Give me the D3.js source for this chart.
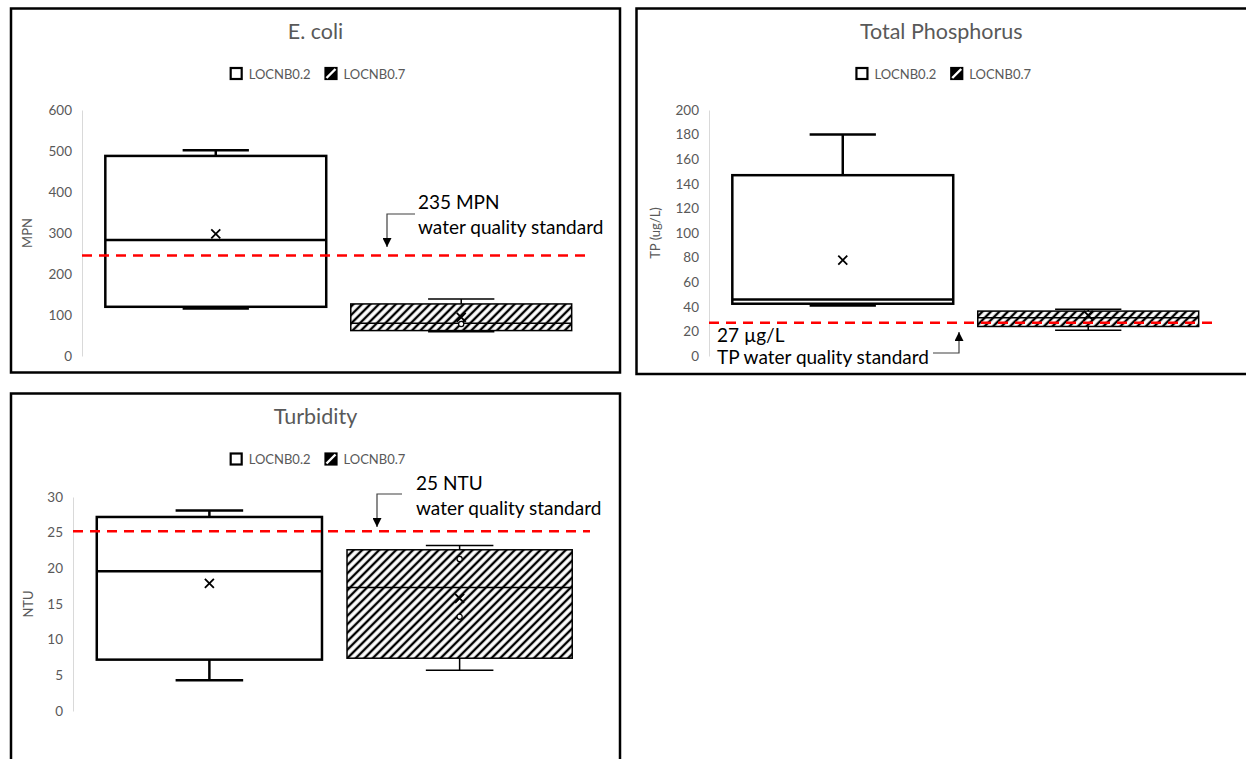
<!DOCTYPE html>
<html>
<head>
<meta charset="utf-8">
<title>Water quality box plots</title>
<script src="https://d3js.org/d3.v7.min.js"></script>
<style>
  body { margin: 0; background: #fff; }
  svg { display: block; font-family: Lato, "Noto Sans", sans-serif; }
</style>
</head>
<body>
<svg id="chart" width="1246" height="759"></svg>
<script>
// sampling sites
var sites = ["LOCNB0.2", "LOCNB0.7"];

// E. coli (MPN) - [min, q1, median, q3, max] per site
var ecoliBox = [[116, 120, 283, 488, 502], [59, 62, 80, 127, 139]];
var ecoliMean = [298, 94];
var ecoliPoints = [[], [78]];
var ecoliTicks = [0, 100, 200, 300, 400, 500, 600];
var ecoliStandard = 245;

// Total phosphorus (ug/L)
var tpBox = [[41, 42.5, 46, 147, 180], [21, 24, 31, 36.5, 38]];
var tpMean = [78, 33];
var tpPoints = [[], []];
var tpTicks = [0, 20, 40, 60, 80, 100, 120, 140, 160, 180, 200];
var tpStandard = 27;

// Turbidity (NTU)
var turbBox = [[4.3, 7.2, 19.6, 27.2, 28.1], [5.7, 7.4, 17.3, 22.6, 23.2]];
var turbMean = [17.9, 15.8];
var turbPoints = [[], [21.3, 13.2]];
var turbTicks = [0, 5, 10, 15, 20, 25, 30];
var turbStandard = 25.2;

var svg = d3.select("#chart");
var defs = svg.append("defs");

// wide upward diagonal fill for the second site
var hatch = defs.append("pattern")
    .attr("id", "hatch")
    .attr("patternUnits", "userSpaceOnUse")
    .attr("width", 6).attr("height", 6)
    .attr("patternTransform", "rotate(45)");
hatch.append("rect").attr("width", 6).attr("height", 6).attr("fill", "#fff");
hatch.append("line").attr("x1", 3).attr("y1", 0).attr("x2", 3).attr("y2", 6)
    .attr("stroke", "#000").attr("stroke-width", 2.4);

defs.append("marker")
    .attr("id", "arrow")
    .attr("viewBox", "0 0 10 10")
    .attr("refX", 10).attr("refY", 5)
    .attr("markerUnits", "userSpaceOnUse")
    .attr("markerWidth", 9).attr("markerHeight", 9)
    .attr("orient", "auto")
  .append("path")
    .attr("d", "M0,0L10,5L0,10z")
    .attr("fill", "#000");

var panels = [
  {
    title: "E. coli", yLabel: "MPN",
    box: ecoliBox, mean: ecoliMean, points: ecoliPoints, ticks: ecoliTicks, standard: ecoliStandard,
    frame: [11, 8.5, 609, 364], xRange: [82, 595], yRange: [356, 110], yMax: 600,
    titleY: 39, legendY: 73.5, yLabelX: 27,
    note: { lines: ["235 MPN", "water quality standard"], x: 418, y: [209, 234],
            path: [[415, 214], [387, 214], [387, 247]] }
  },
  {
    title: "Total Phosphorus", yLabel: "TP (ug/L)",
    box: tpBox, mean: tpMean, points: tpPoints, ticks: tpTicks, standard: tpStandard,
    frame: [636.5, 8.5, 620, 365.5], xRange: [709, 1222], yRange: [356, 110], yMax: 200,
    titleY: 39, legendY: 73.5, yLabelX: 655,
    note: { lines: ["27 \u00b5g/L", "TP water quality standard"], x: 717, y: [342, 364],
            path: [[933, 353], [959, 353], [959, 332]] }
  },
  {
    title: "Turbidity", yLabel: "NTU",
    box: turbBox, mean: turbMean, points: turbPoints, ticks: turbTicks, standard: turbStandard,
    frame: [11, 393.5, 609, 400], xRange: [73, 596], yRange: [711, 497], yMax: 30,
    titleY: 424, legendY: 459, yLabelX: 28,
    note: { lines: ["25 NTU", "water quality standard"], x: 416, y: [490, 515],
            path: [[402, 494], [377, 494], [377, 527]] }
  }
];

panels.forEach(drawPanel);

function drawPanel(p) {
  var g = svg.append("g");

  g.append("rect")
      .attr("x", p.frame[0]).attr("y", p.frame[1])
      .attr("width", p.frame[2]).attr("height", p.frame[3])
      .attr("fill", "#fff").attr("stroke", "#000").attr("stroke-width", 2.5);

  var x = d3.scaleBand().domain(sites).range(p.xRange).paddingInner(0.1).paddingOuter(0.095);
  var y = d3.scaleLinear().domain([0, p.yMax]).range(p.yRange);

  // y axis
  var ag = g.append("g")
      .attr("transform", "translate(" + p.xRange[0] + ",0)")
      .call(d3.axisLeft(y).tickValues(p.ticks).tickSize(0).tickPadding(10))
      .attr("font-family", null).attr("font-size", null);
  ag.select(".domain").attr("stroke", "#d9d9d9");
  ag.selectAll("text").attr("fill", "#595959").style("font-size", "13.5px");

  g.append("text")
      .attr("transform", "translate(" + p.yLabelX + "," + ((p.yRange[0] + p.yRange[1]) / 2) + ") rotate(-90)")
      .attr("text-anchor", "middle")
      .attr("dominant-baseline", "central")
      .attr("fill", "#595959")
      .style("font-size", "13px")
      .text(p.yLabel);

  // title
  g.append("text")
      .attr("x", (p.frame[0] + Math.min(p.frame[0] + p.frame[2], 1246)) / 2)
      .attr("y", p.titleY)
      .attr("text-anchor", "middle")
      .attr("fill", "#595959")
      .style("font-size", "21.5px")
      .text(p.title);

  // legend
  var lg = g.append("g");
  var lx = 0;
  sites.forEach(function(s, i) {
    var item = lg.append("g").attr("transform", "translate(" + lx + ",0)");
    if (i === 0) {
      item.append("rect").attr("x", 1).attr("y", -5.5).attr("width", 11).attr("height", 11)
          .attr("fill", "#fff").attr("stroke", "#000").attr("stroke-width", 2.2);
    } else {
      item.append("rect").attr("x", 1).attr("y", -5.5).attr("width", 11).attr("height", 11)
          .attr("fill", "#000").attr("stroke", "#000").attr("stroke-width", 2.2);
      item.append("line").attr("x1", 2).attr("y1", 4.5).attr("x2", 11).attr("y2", -4.5)
          .attr("stroke", "#fff").attr("stroke-width", 2.4);
    }
    var t = item.append("text").attr("x", 19).attr("y", 0)
        .attr("dominant-baseline", "central")
        .attr("fill", "#595959")
        .style("font-size", "13px")
        .text(s);
    lx += 19 + t.node().getComputedTextLength() + 14;
  });
  var lw = lx - 14;
  var cx = (p.frame[0] + Math.min(p.frame[0] + p.frame[2], 1246)) / 2 + 2;
  lg.attr("transform", "translate(" + (cx - lw / 2) + "," + p.legendY + ")");

  var stats = sites.map(function(s, i) {
    var b = p.box[i];
    return { site: s, i: i, min: b[0], q1: b[1], median: b[2], q3: b[3], max: b[4],
             mean: p.mean[i], points: p.points[i] };
  });

  var bw = x.bandwidth();
  var capW = bw * 0.3;

  var boxes = g.selectAll("g.box").data(stats).enter().append("g").attr("class", "box");

  boxes.each(function(d) {
    var bg = d3.select(this);
    var cxm = x(d.site) + bw / 2;
    var sw = d.i === 0 ? 2.5 : 1.5;

    // whiskers
    bg.append("line").attr("x1", cxm).attr("x2", cxm).attr("y1", y(d.q3)).attr("y2", y(d.max))
        .attr("stroke", "#000").attr("stroke-width", sw);
    bg.append("line").attr("x1", cxm).attr("x2", cxm).attr("y1", y(d.q1)).attr("y2", y(d.min))
        .attr("stroke", "#000").attr("stroke-width", sw);
    [d.max, d.min].forEach(function(v) {
      bg.append("line").attr("x1", cxm - capW / 2).attr("x2", cxm + capW / 2)
          .attr("y1", y(v)).attr("y2", y(v))
          .attr("stroke", "#000").attr("stroke-width", sw);
    });

    // box
    bg.append("rect")
        .attr("x", x(d.site)).attr("y", y(d.q3))
        .attr("width", bw).attr("height", y(d.q1) - y(d.q3))
        .attr("fill", d.i === 0 ? "#fff" : "url(#hatch)")
        .attr("stroke", "#000").attr("stroke-width", sw);

    bg.append("line").attr("x1", x(d.site)).attr("x2", x(d.site) + bw)
        .attr("y1", y(d.median)).attr("y2", y(d.median))
        .attr("stroke", "#000").attr("stroke-width", sw);

    // mean marker
    var my = y(d.mean), r = 4.5;
    bg.append("path")
        .attr("d", "M" + (cxm - r) + "," + (my - r) + "L" + (cxm + r) + "," + (my + r) +
                   "M" + (cxm - r) + "," + (my + r) + "L" + (cxm + r) + "," + (my - r))
        .attr("stroke", "#000").attr("stroke-width", 1.8);

    bg.selectAll("circle").data(d.points).enter().append("circle")
        .attr("cx", cxm).attr("cy", function(v) { return y(v); })
        .attr("r", 2.6)
        .attr("fill", "#fff").attr("stroke", "#000").attr("stroke-width", 1.2);
  });

  // water quality standard
  g.append("line")
      .attr("x1", p.xRange[0]).attr("x2", p.xRange[1] - 6)
      .attr("y1", y(p.standard)).attr("y2", y(p.standard))
      .attr("stroke", "#ff0000").attr("stroke-width", 2.5)
      .attr("stroke-dasharray", "10,7");

  // callout
  g.append("path")
      .attr("d", d3.line()(p.note.path))
      .attr("fill", "none").attr("stroke", "#404040").attr("stroke-width", 1.2)
      .attr("marker-end", "url(#arrow)");
  p.note.lines.forEach(function(l, k) {
    g.append("text")
        .attr("x", p.note.x).attr("y", p.note.y[k])
        .attr("fill", "#000")
        .style("font-size", "19px")
        .text(l);
  });
}
</script>
</body>
</html>
